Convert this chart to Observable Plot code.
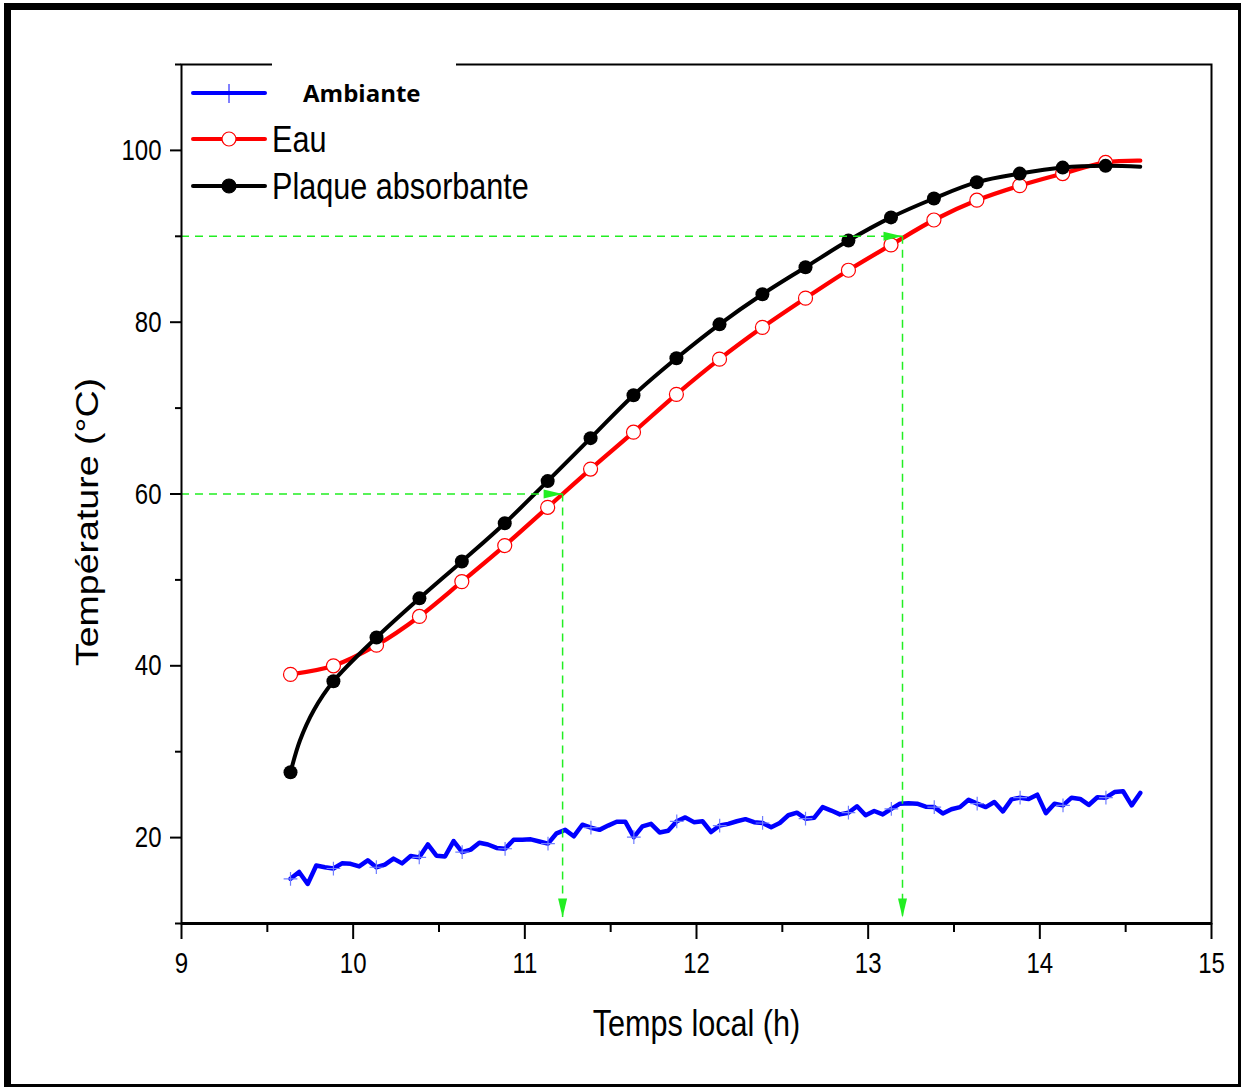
<!DOCTYPE html>
<html>
<head>
<meta charset="utf-8">
<script src="https://cdn.jsdelivr.net/npm/d3@7"></script>
<script src="https://cdn.jsdelivr.net/npm/@observablehq/plot@0.6"></script>
<style>
  body { margin: 0; background: #fff; }
  #wrap { position: relative; width: 1243px; height: 1089px; background: #fff; }
  #border { position: absolute; left: 4px; top: 3px; width: 1237px; height: 1084px; box-sizing: border-box;
            border-style: solid; border-color: #000; border-width: 7px 3px 3px 7px; pointer-events: none; }
  #legend { position: absolute; left: 180px; top: 60px; pointer-events: none; }
</style>
</head>
<body>
<div id="wrap"><div id="border"></div></div>
<script>
// Water and absorber plate: readings every quarter hour (local time, decimal hours)
const markerHours = [9.635, 9.885, 10.136, 10.386, 10.633, 10.883, 11.133, 11.383, 11.633, 11.883,
                     12.134, 12.384, 12.635, 12.885, 13.133, 13.383, 13.633, 13.883, 14.133, 14.383];
const eauTemps    = [39.0, 40.0, 42.4, 45.75, 49.8, 54.0, 58.45, 62.9, 67.2, 71.6,
                     75.7, 79.4, 82.8, 86.05, 89.0, 91.9, 94.2, 95.9, 97.3, 98.6];
const plaqueTemps = [27.6, 38.2, 43.3, 47.85, 52.15, 56.6, 61.5, 66.5, 71.5, 75.8,
                     79.75, 83.25, 86.4, 89.5, 92.2, 94.4, 96.3, 97.3, 98.0, 98.2];
// extra plate readings during the fast warm-up
const plaqueWarmupHours = [9.69, 9.77];
const plaqueWarmupTemps = [31.3, 34.8];
// last reading of the day
const lastHour = 14.585;
const eauLast = 98.8;
const plaqueLast = 98.1;

// Ambient air: one reading every 3 minutes from 9:38
const ambientStartHour = 9.635;
const ambientStepHours = 0.05;
const ambientTemps = [
  15.2, 16.0, 14.6, 16.75, 16.55, 16.4, 17.0, 16.95, 16.65, 17.35,
  16.55, 16.85, 17.55, 17.0, 17.85, 17.7, 19.2, 17.9, 17.8, 19.6,
  18.3, 18.6, 19.4, 19.2, 18.8, 18.7, 19.75, 19.75, 19.8, 19.55,
  19.3, 20.5, 20.9, 20.15, 21.5, 21.15, 20.9, 21.4, 21.85, 21.85,
  20.05, 21.3, 21.6, 20.6, 20.8, 21.9, 22.35, 21.8, 21.9, 20.65,
  21.4, 21.6, 21.9, 22.15, 21.8, 21.7, 21.2, 21.7, 22.6, 22.9,
  22.2, 22.3, 23.55, 23.15, 22.7, 22.9, 23.65, 22.6, 23.1, 22.7,
  23.35, 23.95, 24.0, 23.95, 23.6, 23.55, 22.8, 23.3, 23.55, 24.4,
  23.95, 23.55, 24.15, 23.05, 24.45, 24.65, 24.5, 25.0, 22.85, 23.95,
  23.75, 24.65, 24.5, 23.8, 24.7, 24.65, 25.3, 25.4, 23.75, 25.2
];

// Guides: time at which the water reaches 60 °C and 90 °C
const guideTemps = [60, 90];
const guideHours = [11.22, 13.2];
const guideFloor = 10.7;

// Axis ticks
const xTicks = [9, 10, 11, 12, 13, 14, 15];
const xMinorTicks = [9.5, 10.5, 11.5, 12.5, 13.5, 14.5];
const yTicks = [20, 40, 60, 80, 100];
const yMinorTicks = [10, 30, 50, 70, 90, 110];

// Legend entries
const seriesNames = ["Ambiante", "Eau", "Plaque absorbante"];
const seriesColors = ["#0000ff", "#ff0000", "#000000"];

const sans = '"Liberation Sans", Arial, sans-serif';
const green = "#22ee22";

const eauLine = markerHours.map((h, i) => ({h, t: eauTemps[i]})).concat([{h: lastHour, t: eauLast}]);
const plaqueLine = markerHours.map((h, i) => ({h, t: plaqueTemps[i]}))
  .concat(plaqueWarmupHours.map((h, i) => ({h, t: plaqueWarmupTemps[i]})))
  .concat([{h: lastHour, t: plaqueLast}])
  .sort((a, b) => a.h - b.h);
const eauMarks = markerHours.map((h, i) => ({h, t: eauTemps[i]}));
const plaqueMarks = markerHours.map((h, i) => ({h, t: plaqueTemps[i]}));
const ambient = ambientTemps.map((t, i) => ({h: ambientStartHour + i * ambientStepHours, t, i}));
const guides = guideTemps.map((t, i) => ({t, h: guideHours[i]}));

// Slim filled arrowhead, tip at the anchor point, pointing up before rotation
const arrowHead = {
  draw(context) {
    const L = 19, w = 9;
    context.moveTo(0, 0);
    context.lineTo(-w / 2, L);
    context.lineTo(w / 2, L);
    context.closePath();
  }
};

const chart = Plot.plot({
  width: 1243,
  height: 1089,
  marginTop: 64,
  marginRight: 32,
  marginBottom: 166,
  marginLeft: 181,
  style: {fontFamily: sans, fontSize: "30px", color: "#000", background: "transparent"},
  x: {domain: [9, 15], axis: null},
  y: {domain: [10, 110], axis: null},
  marks: [
    // ambient air
    Plot.line(ambient, {x: "h", y: "t", stroke: "#0000ff", strokeWidth: 4.5, strokeLinejoin: "round"}),
    Plot.dot(ambient.filter(d => d.i % 5 === 0), {x: "h", y: "t", symbol: "plus", r: 4.5, stroke: "#6f7dff", strokeWidth: 1.2}),
    // water
    Plot.line(eauLine, {x: "h", y: "t", stroke: "#ff0000", strokeWidth: 4.3, curve: "catmull-rom"}),
    Plot.dot(eauMarks, {x: "h", y: "t", r: 7, fill: "#fff", stroke: "#ff0000", strokeWidth: 1.2}),
    // absorber plate
    Plot.line(plaqueLine, {x: "h", y: "t", stroke: "#000", strokeWidth: 4, curve: "catmull-rom"}),
    Plot.dot(plaqueMarks, {x: "h", y: "t", r: 7, fill: "#000"}),
    // guides
    Plot.ruleY(guides, {y: "t", x1: 9, x2: "h", stroke: green, strokeWidth: 1.5, strokeDasharray: "8,6"}),
    Plot.ruleX(guides, {x: "h", y1: "t", y2: guideFloor, stroke: green, strokeWidth: 1.5, strokeDasharray: "8,6"}),
    Plot.dot(guides, {x: "h", y: "t", symbol: arrowHead, rotate: 90, fill: green, stroke: "none"}),
    Plot.dot(guides, {x: "h", y: () => guideFloor, symbol: arrowHead, rotate: 180, fill: green, stroke: "none"}),
    // frame and axes
    Plot.frame({stroke: "#000", strokeWidth: 2}),
    Plot.ruleY([10], {stroke: "#000", strokeWidth: 3}),
    Plot.axisX(xMinorTicks, {tickSize: 9, strokeWidth: 2, tickFormat: () => "", label: null}),
    Plot.axisX(xTicks, {tickSize: 16, tickPadding: 12, strokeWidth: 2, fontSize: 30, tickFormat: d3.format("d"), label: null}),
    Plot.axisY(yMinorTicks, {tickSize: 6, strokeWidth: 2, tickFormat: () => "", label: null}),
    Plot.axisY(yTicks, {tickSize: 11, tickPadding: 9, strokeWidth: 2, fontSize: 30, tickFormat: d3.format("d"), label: null}),
    Plot.text(["Temps local (h)"], {frameAnchor: "bottom", dy: 112, fontSize: 36, className: "xlab"}),
    Plot.text(["Température (°C)"], {frameAnchor: "left", textAnchor: "middle", dx: -93, dy: 28, rotate: -90,
      fontSize: 31, className: "ylab"})
  ]
});

document.getElementById("wrap").prepend(chart);

// Text in this figure is set in a condensed face: squeeze horizontal labels,
// and stretch the vertical title along its length.
function fitText(selection, ratio) {
  selection.each(function () {
    const len = this.getComputedTextLength();
    if (len > 0) {
      this.setAttribute("textLength", (len * ratio).toFixed(1));
      this.setAttribute("lengthAdjust", "spacingAndGlyphs");
    }
  });
}
const svg = d3.select(chart);
fitText(svg.selectAll('g[aria-label$="tick label"] text'), 0.8);
fitText(svg.selectAll(".xlab text"), 0.85);
fitText(svg.selectAll(".ylab text"), 1.21);

// Legend, placed in the upper-left corner of the plot
const legend = d3.select("#wrap").append("svg")
  .attr("id", "legend").attr("width", 420).attr("height", 150);
legend.append("rect").attr("x", 92).attr("y", 1).attr("width", 184).attr("height", 6).attr("fill", "#fff");
const rowY = [33, 79, 126];
seriesNames.forEach((name, i) => {
  const g = legend.append("g").attr("transform", `translate(0,${rowY[i]})`);
  g.append("line").attr("x1", 13).attr("x2", 85).attr("y1", 0).attr("y2", 0)
    .attr("stroke", seriesColors[i]).attr("stroke-width", 4).attr("stroke-linecap", "round");
  if (i === 0) {
    g.append("line").attr("x1", 49).attr("x2", 49).attr("y1", -9).attr("y2", 10)
      .attr("stroke", "#0000ff").attr("stroke-width", 1);
    g.append("text").attr("x", 123).attr("y", 0).attr("dy", "0.36em")
      .attr("font-family", '"Open Sans", sans-serif').attr("font-weight", 700).attr("font-size", 24)
      .text(name);
  } else {
    g.append("circle").attr("cx", 49).attr("cy", 0).attr("r", 7)
      .attr("fill", i === 1 ? "#fff" : "#000").attr("stroke", seriesColors[i]).attr("stroke-width", 1.2);
    g.append("text").attr("class", "legend-label").attr("x", 92).attr("y", 0).attr("dy", "0.36em")
      .attr("font-family", sans).attr("font-size", 36)
      .text(name);
  }
});
fitText(legend.selectAll(".legend-label"), 0.85);
</script>
</body>
</html>
